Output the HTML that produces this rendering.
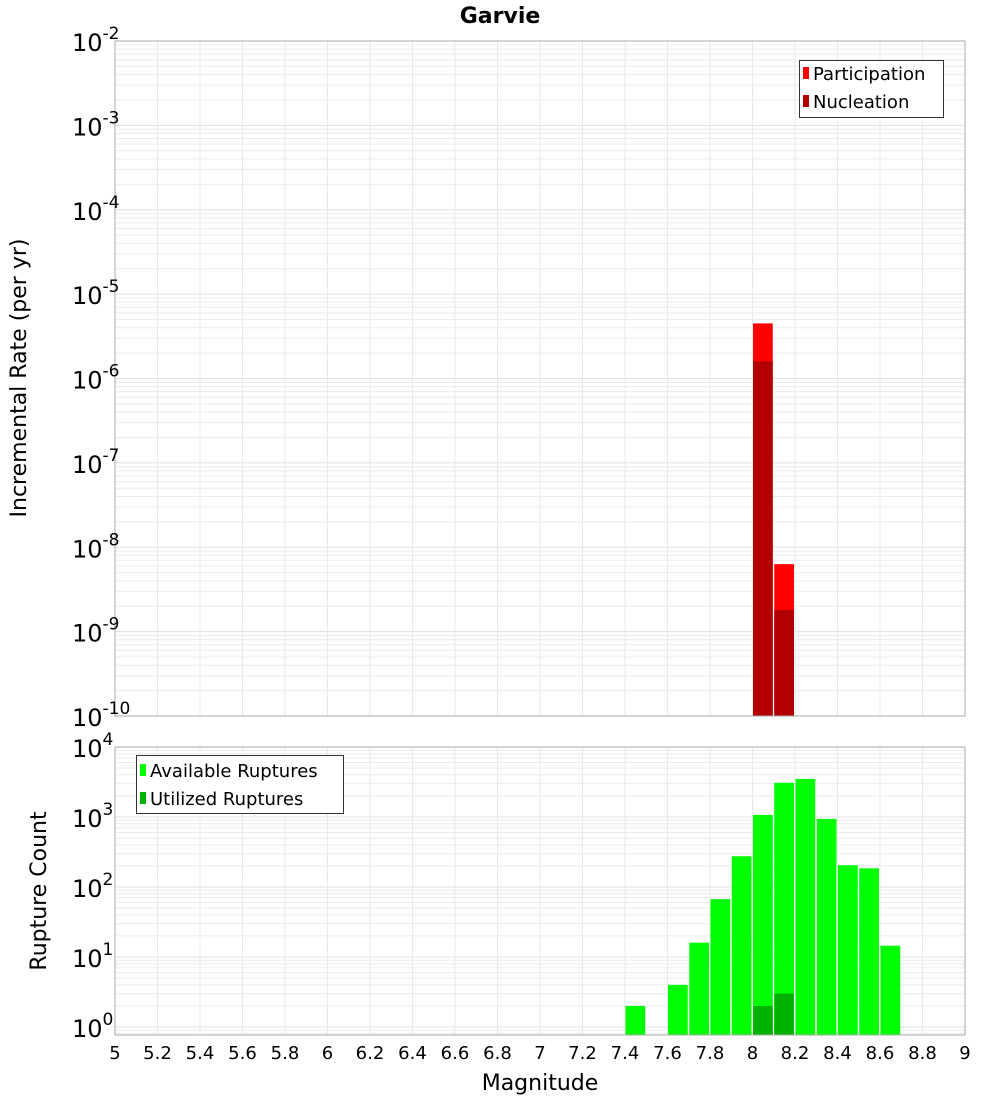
<!DOCTYPE html>
<html><head><meta charset="utf-8"><style>
body{margin:0;background:#fff;font-family:"Liberation Sans","DejaVu Sans",sans-serif}
svg text{font-family:"DejaVu Sans","Liberation Sans",sans-serif}
</style></head><body>
<svg id="c" width="1000" height="1100" xmlns="http://www.w3.org/2000/svg"></svg>
<script>
const mags=[7.4,7.5,7.6,7.7,7.8,7.9,8.0,8.1,8.2,8.3,8.4,8.5,8.6];
const available=[2,0,4,16,67,275,1070,3080,3500,940,205,185,14.5];
const utilized=[0,0,0,0,0,0,2,3,0,0,0,0,0];
const rateMags=[8.0,8.1];
const participation=[4.5e-6,6.3e-9];
const nucleation=[1.6e-6,1.8e-9];
const xTicks=[5,5.2,5.4,5.6,5.8,6,6.2,6.4,6.6,6.8,7,7.2,7.4,7.6,7.8,8,8.2,8.4,8.6,8.8,9];
const topExp=[-10,-9,-8,-7,-6,-5,-4,-3,-2];
const botExp=[0,1,2,3,4];

const svg=document.getElementById('c');const NS='http://www.w3.org/2000/svg';
function el(t,a,p){const e=document.createElementNS(NS,t);for(const k in a)e.setAttribute(k,a[k]);(p||svg).appendChild(e);return e;}
const X0=115,X1=965;const xs=m=>X0+(m-5)/4*(X1-X0);
const T0=41,T1=716;const yT=v=>T1-(Math.log10(v)+10)/8*(T1-T0);
const B0=747,B1=1035;const bDec=70,b1=1027;const yB=v=>b1-Math.log10(v)*bDec;
function grid(top,bot,yf,lo,hi){
 for(let e=lo;e<=hi;e++)for(let k=1;k<10;k++){const y=yf(k*Math.pow(10,e));if(y<top-0.5||y>bot+0.5)continue;
  const g=el('line',{x1:X0,x2:X1,y1:y,y2:y,stroke:k==1?'#e0e0e0':'#ececec','stroke-width':1});
  }
 xTicks.forEach(t=>{const x=xs(t);const g=el('line',{x1:x,x2:x,y1:top,y2:bot,stroke:'#e8e8e8'});
  });
}
// top panel
grid(T0,T1,yT,-10,-3);
const bw=(X1-X0)/40;
rateMags.forEach((m,i)=>{const x=xs(m)+0.5;
 const r=el('rect',{x:x,y:yT(participation[i]),width:bw-1.5,height:T1-yT(participation[i]),fill:'#ff0000'});
 
 const n=el('rect',{x:x,y:yT(nucleation[i]),width:bw-1.5,height:T1-yT(nucleation[i]),fill:'#b20000'});
 });
el('rect',{x:X0,y:T0,width:X1-X0,height:T1-T0,fill:'none',stroke:'#aaa'});
topExp.forEach(e=>{const y=yT(Math.pow(10,e));const t=el('text',{x:72,y:y+10,'font-size':24,fill:'#000'});
 
 t.textContent='10';const s=el('tspan',{dy:-12,'font-size':17},t);s.textContent=e;});
// bottom panel
grid(B0,B1,yB,-1,4);
mags.forEach((m,i)=>{const x=xs(m)+0.5;
 if(available[i]>0){const r=el('rect',{x:x,y:yB(available[i]),width:bw-1.5,height:B1-yB(available[i]),fill:'#00ff00'});
  }
 if(utilized[i]>0){const r=el('rect',{x:x,y:yB(utilized[i]),width:bw-1.5,height:B1-yB(utilized[i]),fill:'#00b200'});
  }});
el('rect',{x:X0,y:B0,width:X1-X0,height:B1-B0,fill:'none',stroke:'#aaa'});
botExp.forEach(e=>{const y=yB(Math.pow(10,e));const t=el('text',{x:72,y:y+10,'font-size':24,fill:'#000'});
 
 t.textContent='10';const s=el('tspan',{dy:-12,'font-size':17},t);s.textContent=e;});
xTicks.forEach(v=>{const t=el('text',{x:xs(v),y:1059,'font-size':18,'text-anchor':'middle',fill:'#000'});
 t.textContent=String(v);});
</script>
<svg style="position:absolute;left:0;top:0" width="1000" height="1100" xmlns="http://www.w3.org/2000/svg">
<text x="500" y="23" font-size="22" font-weight="bold" text-anchor="middle" font-family="DejaVu Sans, sans-serif">Garvie</text>
<text transform="translate(26,378) rotate(-90)" font-size="22" text-anchor="middle" font-family="DejaVu Sans, sans-serif">Incremental Rate (per yr)</text>
<text transform="translate(46,891) rotate(-90)" font-size="22" text-anchor="middle" font-family="DejaVu Sans, sans-serif">Rupture Count</text>
<text x="540" y="1090" font-size="22" text-anchor="middle" font-family="DejaVu Sans, sans-serif">Magnitude</text>
<g>
<rect x="799.5" y="60.5" width="144" height="57" fill="#fff" stroke="#333"/>
<rect x="803" y="67" width="6" height="12" fill="#ff0000"/>
<text x="813" y="80" font-size="18" font-family="DejaVu Sans, sans-serif">Participation</text>
<rect x="803" y="95" width="6" height="12" fill="#b20000"/>
<text x="813" y="108" font-size="18" font-family="DejaVu Sans, sans-serif">Nucleation</text>
</g>
<g>
<rect x="136.5" y="755.5" width="207" height="58" fill="#fff" stroke="#333"/>
<rect x="140" y="764" width="6" height="12" fill="#00ff00"/>
<text x="150" y="777" font-size="18" font-family="DejaVu Sans, sans-serif">Available Ruptures</text>
<rect x="140" y="792" width="6" height="12" fill="#00b200"/>
<text x="150" y="805" font-size="18" font-family="DejaVu Sans, sans-serif">Utilized Ruptures</text>
</g>
</svg>
</body></html>
